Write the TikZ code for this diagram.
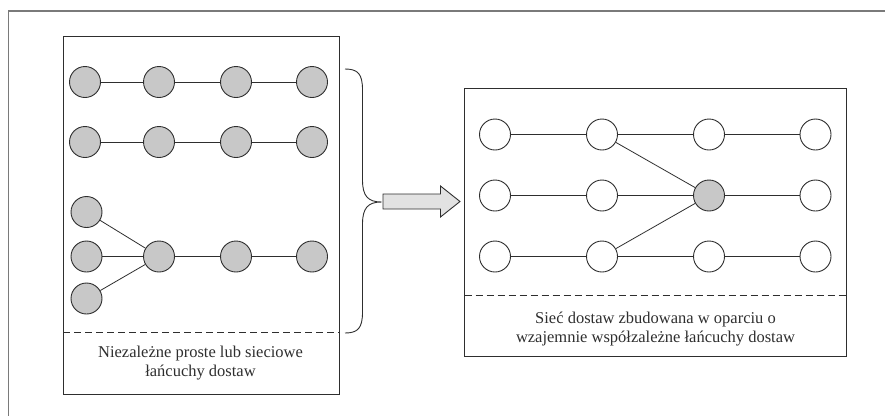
\documentclass[tikz,border=0pt]{standalone}
\usepackage{fontspec}
\setmainfont{Liberation Serif}
\definecolor{ink}{HTML}{2E2E2E}
\definecolor{nodegray}{HTML}{C8C8C8}
\definecolor{arrowgray}{HTML}{E2E2E2}
\definecolor{framegray}{HTML}{7A7A7A}
\tikzset{
  site/.style={circle, draw=ink, line width=0.9pt, minimum size=31pt, inner sep=0pt},
  full/.style={site, fill=nodegray},
  empty/.style={site, fill=white},
  link/.style={draw=ink, line width=0.8pt},
  panel/.style={draw=ink, line width=1pt},
  sep/.style={draw=ink, line width=0.8pt, dash pattern=on 7pt off 4pt},
  caption/.style={font=\fontsize{16.5}{19}\selectfont, align=center, text=ink}
}
\begin{document}
\begin{tikzpicture}[x=1pt,y=-1pt]
\useasboundingbox (0,0) rectangle (885,416);
% outer frame (top and left edges)
\draw[framegray, line width=1.2pt] (885,11) -- (8.5,11) -- (8.5,416);

% left panel
\draw[panel] (63,36) rectangle (339.5,394);
\draw[sep] (63,332.5) -- (339.5,332.5);
\node[caption] (lcap) at (200.5,363.5) {Niezależne proste lub sieciowe\\łańcuchy dostaw};

% independent chains
\foreach \r/\y in {1/82, 2/142}{
  \node[full] (a\r1) at (85,\y) {};
  \node[full] (a\r2) at (159,\y) {};
  \node[full] (a\r3) at (236,\y) {};
  \node[full] (a\r4) at (312,\y) {};
  \draw[link] (a\r1) -- (a\r2) -- (a\r3) -- (a\r4);
}
% converging chain
\node[full] (b1) at (86.5,212) {};
\node[full] (b2) at (86.5,256.5) {};
\node[full] (b3) at (86.5,298.5) {};
\node[full] (bh) at (159,256.5) {};
\node[full] (b5) at (236,256.5) {};
\node[full] (b6) at (312,256.5) {};
\draw[link] (b1) -- (bh);
\draw[link] (b2) -- (bh);
\draw[link] (b3) -- (bh);
\draw[link] (bh) -- (b5) -- (b6);

% brace
\coordinate (bt) at (345,69);
\coordinate (bb) at (345,333);
\coordinate (bm) at (381.5,202);
\draw[ink, line width=0.9pt] (bt) .. controls (358,69) and (362.5,74) .. (362.5,90)
  -- (362.5,180) .. controls (362.5,196) and (368,202) .. (bm)
  .. controls (368,202) and (362.5,208) .. (362.5,224)
  -- (362.5,312) .. controls (362.5,328) and (358,333) .. (bb);

% block arrow
\coordinate (arrtail) at (383,201.5);
\coordinate (arrtip) at (460,201.5);
\draw[ink, fill=arrowgray, line width=0.9pt, line join=miter]
  (383,194) -- (440.5,194) -- (440.5,186) -- (arrtip)
  -- (440.5,217) -- (440.5,209) -- (383,209) -- cycle;

% right panel
\draw[panel] (464.5,88.5) rectangle (846.5,356);
\draw[sep] (464.5,295) -- (846.5,295);
\node[caption] (rcap) at (655.5,329.5) {Sieć dostaw zbudowana w oparciu o\\wzajemnie współzależne łańcuchy dostaw};

\foreach \r/\y in {1/134.5, 2/195.5, 3/256.5}{
  \node[empty] (c\r1) at (495,\y) {};
  \node[empty] (c\r2) at (602,\y) {};
  \node[empty] (c\r4) at (815.5,\y) {};
}
\node[empty] (c13) at (709,134.5) {};
\node[full]  (c23) at (709,195.5) {};
\node[empty] (c33) at (709,256.5) {};

\draw[link] (c11) -- (c12) -- (c13) -- (c14);
\draw[link] (c21) -- (c22) -- (c23) -- (c24);
\draw[link] (c31) -- (c32) -- (c33) -- (c34);
\draw[link] (c12) -- (c23);
\draw[link] (c32) -- (c23);
\end{tikzpicture}
\end{document}
